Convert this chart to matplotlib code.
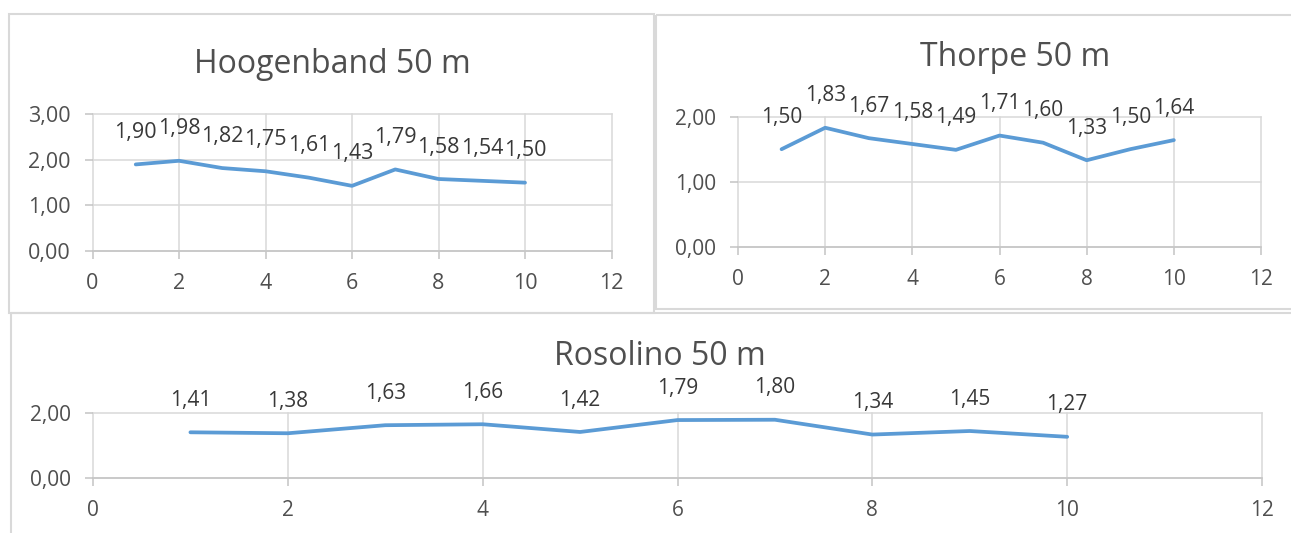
import matplotlib
matplotlib.use("Agg")
import matplotlib.pyplot as plt
from matplotlib.patches import Rectangle

W, H = 1291, 533
DPI = 100

# lap split times (s) per 5 m segment
laps = [1, 2, 3, 4, 5, 6, 7, 8, 9, 10]
hoogenband = [1.90, 1.98, 1.82, 1.75, 1.61, 1.43, 1.79, 1.58, 1.54, 1.50]
thorpe = [1.50, 1.83, 1.67, 1.58, 1.49, 1.71, 1.60, 1.33, 1.50, 1.64]
rosolino = [1.41, 1.38, 1.63, 1.66, 1.42, 1.79, 1.80, 1.34, 1.45, 1.27]

titles = ["Hoogenband 50 m", "Thorpe 50 m", "Rosolino 50 m"]
x_ticks = [0, 2, 4, 6, 8, 10, 12]
hoogenband_yticks = [0, 1, 2, 3]
thorpe_yticks = [0, 1, 2]
rosolino_yticks = [0, 2]

LINE = "#5B9BD5"
GRID = "#D9D9D9"
AXIS = "#C4C4C4"
TICKTXT = "#4F4F4F"
LABELTXT = "#383838"

plt.rcParams["font.family"] = ["Open Sans", "DejaVu Sans"]

fig = plt.figure(figsize=(W / DPI, H / DPI), dpi=DPI)
fig.patch.set_facecolor("white")


def px_rect(left, top, right, bottom):
    return [left / W, 1 - bottom / H, (right - left) / W, (bottom - top) / H]


def comma(v):
    return f"{v:.2f}".replace(".", ",")


# frames around each chart, drawn in pixel coordinates
bg = fig.add_axes([0, 0, 1, 1], zorder=0)
bg.set_xlim(0, W)
bg.set_ylim(H, 0)
bg.axis("off")
frame = dict(fill=False, edgecolor=GRID, linewidth=1.5)
bg.add_patch(Rectangle((11, 312.5), 1400, 300, **frame))
bg.add_patch(Rectangle((656, 15), 700, 294, **frame))
bg.add_patch(Rectangle((9, 14), 645, 299, **frame))


def draw_chart(rect, values, yticks, ymax, title, title_xy,
               tick_size=15, label_size=15):
    ax = fig.add_axes(px_rect(*rect), zorder=1)
    ax.set_facecolor("none")
    ax.plot(laps, values, color=LINE, lw=2.7, solid_capstyle="round",
            solid_joinstyle="round", zorder=3, clip_on=False)
    ax.set_xlim(0, 12)
    ax.set_ylim(0, ymax)
    ax.set_xticks(x_ticks)
    ax.set_yticks(yticks)
    ax.set_xticklabels([str(t) for t in x_ticks])
    ax.set_yticklabels([comma(t) for t in yticks])
    ax.grid(True, color=GRID, lw=1.1)
    ax.set_axisbelow(True)
    for ln in ax.get_xgridlines() + ax.get_ygridlines():
        ln.set_clip_on(False)
    for s in ["top", "right", "left"]:
        ax.spines[s].set_visible(False)
    ax.spines["bottom"].set_color(AXIS)
    ax.spines["bottom"].set_linewidth(1.1)
    ax.tick_params(axis="both", colors=AXIS, labelcolor=TICKTXT,
                   labelsize=tick_size, length=6, width=1.1, pad=10)
    for x, v in zip(laps, values):
        ax.annotate(comma(v), (x, v), xytext=(0, 19), textcoords="offset points",
                    ha="center", va="baseline", fontsize=label_size,
                    color=LABELTXT)
    fig.text(title_xy[0] / W, 1 - title_xy[1] / H, title, ha="center",
             va="baseline", fontsize=23, color=TICKTXT)
    return ax


draw_chart((92.5, 114.3, 611.5, 251), hoogenband, hoogenband_yticks, 3,
           titles[0], (332.5, 73.3), tick_size=15.5, label_size=15.5)
draw_chart((738, 116.7, 1261, 246.7), thorpe, thorpe_yticks, 2,
           titles[1], (1015, 65.7))
draw_chart((93, 413.3, 1262, 477.7), rosolino, rosolino_yticks, 2,
           titles[2], (660, 365))

fig.savefig("out.png", dpi=DPI, facecolor="white")
